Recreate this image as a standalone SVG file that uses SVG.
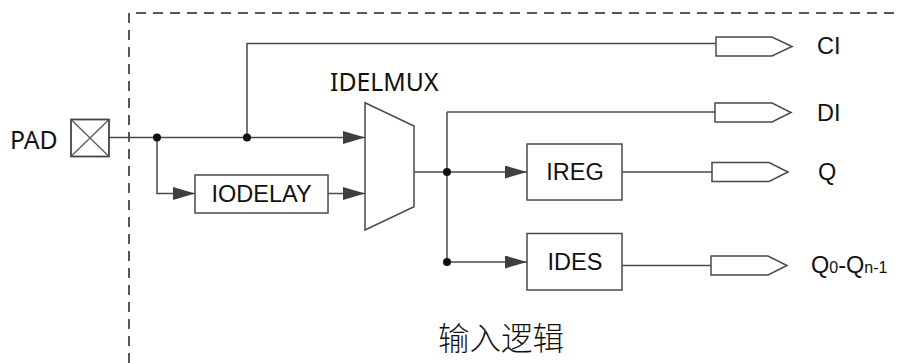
<svg xmlns="http://www.w3.org/2000/svg" width="901" height="363" viewBox="0 0 901 363">
<style>
.w{fill:none;stroke:#4a4a4a;stroke-width:1.5}
.b{fill:#fff;stroke:#4a4a4a;stroke-width:1.5}
.t{font-family:"Liberation Sans",Arial,sans-serif;font-size:23.5px;fill:#111}
.h{font-family:"Noto Sans","Open Sans",sans-serif;font-size:24.8px;fill:#111}
.d{fill:#111}
</style>
<defs>
<marker id="a" viewBox="0 0 22 13" refX="22" refY="6.5" markerWidth="22" markerHeight="13" markerUnits="userSpaceOnUse" orient="auto">
<path d="M0,0L22,6.5L0,13z" fill="#3f3f3f"/>
</marker>
</defs>
<rect width="901" height="363" fill="#fff"/>
<path d="M129,363V13H901" fill="none" stroke="#222" stroke-width="1.5" stroke-dasharray="10,7"/>
<g id="pad">
<rect x="71" y="119.5" width="38" height="37" fill="#fff" stroke="#444" stroke-width="1.8"/>
<path d="M71,119.5L109,156.5M109,119.5L71,156.5" stroke="#555" stroke-width="1.2"/>
<text class="h" x="10" y="149">PAD</text>
</g>
<g id="connectors">
<path class="w" d="M109,137.5H365" marker-end="url(#a)"/>
<path class="w" d="M157,137.5V193.5H195" marker-end="url(#a)"/>
<path class="w" d="M247,137.5V43.5H716"/>
<path class="w" d="M328,193.5H365" marker-end="url(#a)"/>
<path class="w" d="M414,172H447"/>
<path class="w" d="M447,112V262"/>
<path class="w" d="M447,112H715"/>
<path class="w" d="M447,172H527" marker-end="url(#a)"/>
<path class="w" d="M447,262H527" marker-end="url(#a)"/>
<path class="w" d="M622,172H712"/>
<path class="w" d="M622,265.5H711"/>
<circle class="d" cx="157" cy="137.5" r="4"/>
<circle class="d" cx="247" cy="137.5" r="4"/>
<circle class="d" cx="447" cy="172" r="4"/>
<circle class="d" cx="447" cy="262" r="4"/>
</g>
<g id="iodelay">
<rect class="b" x="195" y="175" width="133" height="38"/>
<text class="t" x="261.5" y="202" text-anchor="middle">IODELAY</text>
</g>
<g id="idelmux">
<path class="b" d="M365,102.7L414,126V206.7L365,230z"/>
<text class="h" x="330" y="91">IDELMUX</text>
</g>
<g id="ireg">
<rect class="b" x="527" y="144" width="95" height="56"/>
<text class="t" x="575" y="180" text-anchor="middle">IREG</text>
</g>
<g id="ides">
<rect class="b" x="527" y="233.5" width="95" height="56.5"/>
<text class="t" x="575" y="270" text-anchor="middle">IDES</text>
</g>
<g id="ci">
<path class="b" d="M716,37H772L792,46.5L772,56H716z"/>
<text class="t" x="817" y="54">CI</text>
</g>
<g id="di">
<path class="b" d="M715,103H772L791,112.5L772,122H715z"/>
<text class="t" x="817" y="121">DI</text>
</g>
<g id="q">
<path class="b" d="M712,162.5H769L788,172L769,181.5H712z"/>
<text class="t" x="818" y="180">Q</text>
</g>
<g id="qn">
<path class="b" d="M711,256H768L787,265.5L768,275H711z"/>
<text class="t" x="811" y="273">Q<tspan font-size="16">0</tspan>-Q<tspan font-size="16">n-1</tspan></text>
</g>
<text x="438" y="350" font-family="'Noto Sans CJK SC',sans-serif" font-size="31.5" font-weight="300" fill="#111">输入逻辑</text>
</svg>
